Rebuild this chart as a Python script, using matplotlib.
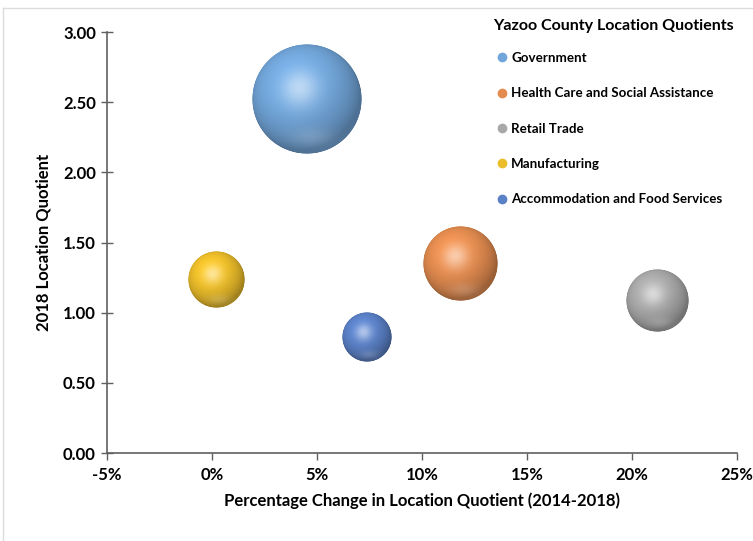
import numpy as np
import matplotlib
matplotlib.use('Agg')
import matplotlib.pyplot as plt
from matplotlib.offsetbox import OffsetImage, AnnotationBbox
from matplotlib.lines import Line2D
from matplotlib.ticker import FuncFormatter

plt.rcParams['font.family'] = ['Lato', 'DejaVu Sans']
plt.rcParams['font.weight'] = 'bold'

# datos
industrias = ['Government', 'Health Care and Social Assistance', 'Retail Trade',
              'Manufacturing', 'Accommodation and Food Services']
cambio_pct = [4.5, 11.8, 21.2, 0.2, 7.4]        # % cambio LQ 2014-2018
lq_2018 = [2.52, 1.35, 1.09, 1.23, 0.83]
tamano = [3025, 1370, 990, 785, 625]            # tamano relativo de burbuja
colores = ['#72a6da', '#e48c50', '#a8a8a8', '#ecbd2a', '#5a80c6']

x_ticks = [-5, 0, 5, 10, 15, 20, 25]
y_ticks = [0, 0.5, 1.0, 1.5, 2.0, 2.5, 3.0]

DPI = 100
R_MAX = 55  # radio en px de la burbuja mas grande


def esfera(color_hex, diam):
    """Imagen RGBA de una esfera sombreada."""
    n = int(diam * 3)
    base = np.array(matplotlib.colors.to_rgb(color_hex))
    c = (np.arange(n) + 0.5) / n * 2 - 1
    u, v = np.meshgrid(c, -c)
    r2 = u ** 2 + v ** 2
    z = np.sqrt(np.clip(1 - r2, 0, 1))
    L = np.array([-0.3, 0.45, 1.0])
    L = L / np.linalg.norm(L)
    dif = np.clip(u * L[0] + v * L[1] + z * L[2], 0, 1)
    H = L + np.array([0, 0, 1.0])
    H = H / np.linalg.norm(H)
    spec = np.clip(u * H[0] + v * H[1] + z * H[2], 0, 1) ** 18
    # reflejo suave abajo
    refl = np.exp(-((u - 0.1) ** 2 / 0.15 + (v + 0.7) ** 2 / 0.03)) * 0.15
    rgb = base[None, None, :] * (0.68 + 0.4 * dif[..., None])
    rgb = rgb + (1 - rgb) * (0.5 * spec + refl)[..., None]
    rgb = np.clip(rgb, 0, 1)
    rr = np.sqrt(r2)
    alpha = np.clip((1 - rr) * n / 4, 0, 1)
    img = np.dstack([rgb, alpha])
    return img, n


fig = plt.figure(figsize=(7.53, 5.41), dpi=DPI)
ax = fig.add_axes([107 / 753, 1 - 453 / 541, (737 - 107) / 753, (453 - 32) / 541])

ax.set_xlim(-5, 25)
ax.set_ylim(0, 3)

tmax = max(tamano)
for xi, yi, s, col in zip(cambio_pct, lq_2018, tamano, colores):
    diam = 2 * R_MAX * np.sqrt(s / tmax)
    img, n = esfera(col, diam)
    oi = OffsetImage(img, zoom=diam / n, dpi_cor=False, interpolation='antialiased')
    ab = AnnotationBbox(oi, (xi, yi), frameon=False, pad=0, box_alignment=(0.5, 0.5))
    ax.add_artist(ab)

ax.set_xticks(x_ticks)
ax.set_yticks(y_ticks)
ax.xaxis.set_major_formatter(FuncFormatter(lambda v, p: f'{v:.0f}%'))
ax.yaxis.set_major_formatter(FuncFormatter(lambda v, p: f'{v:.2f}'))
for lab in ax.get_xticklabels() + ax.get_yticklabels():
    lab.set_fontweight('bold')
ax.tick_params(axis='x', direction='out', length=5, width=1, color='#606060',
               labelsize=12, pad=5)
ax.tick_params(axis='y', direction='inout', length=8, width=1, color='#606060',
               labelsize=12, pad=4)

for sp in ['top', 'right']:
    ax.spines[sp].set_visible(False)
for sp in ['left', 'bottom']:
    ax.spines[sp].set_color('#606060')
    ax.spines[sp].set_linewidth(1.2)

ax.set_xlabel('Percentage Change in Location Quotient (2014-2018)', fontsize=12,
              fontweight='bold', labelpad=7)
ax.set_ylabel('2018 Location Quotient', fontsize=12, fontweight='bold', labelpad=8)

handles = [Line2D([0], [0], marker='o', linestyle='none', markersize=6,
                  markerfacecolor=c, markeredgecolor=c) for c in colores]
leg = ax.legend(handles, industrias, title='Yazoo County Location Quotients',
                loc='upper left', bbox_to_anchor=(490 / 753, 1 - 16 / 541),
                bbox_transform=fig.transFigure, frameon=False,
                prop={'size': 9.6, 'weight': 'bold'},
                title_fontproperties={'size': 11.5, 'weight': 'bold'},
                alignment='left', handlelength=1.4, handletextpad=0.0,
                labelspacing=1.75, borderaxespad=0, borderpad=0.2)
leg._legend_box.sep = 14

# borde gris del grafico
fig.add_artist(Line2D([3 / 753, 1], [1 - 8 / 541, 1 - 8 / 541], color='#dcdcdc',
                      lw=1, transform=fig.transFigure))
fig.add_artist(Line2D([3 / 753, 3 / 753], [0, 1 - 8 / 541], color='#dcdcdc',
                      lw=1, transform=fig.transFigure))

fig.savefig('out.png', dpi=DPI)
